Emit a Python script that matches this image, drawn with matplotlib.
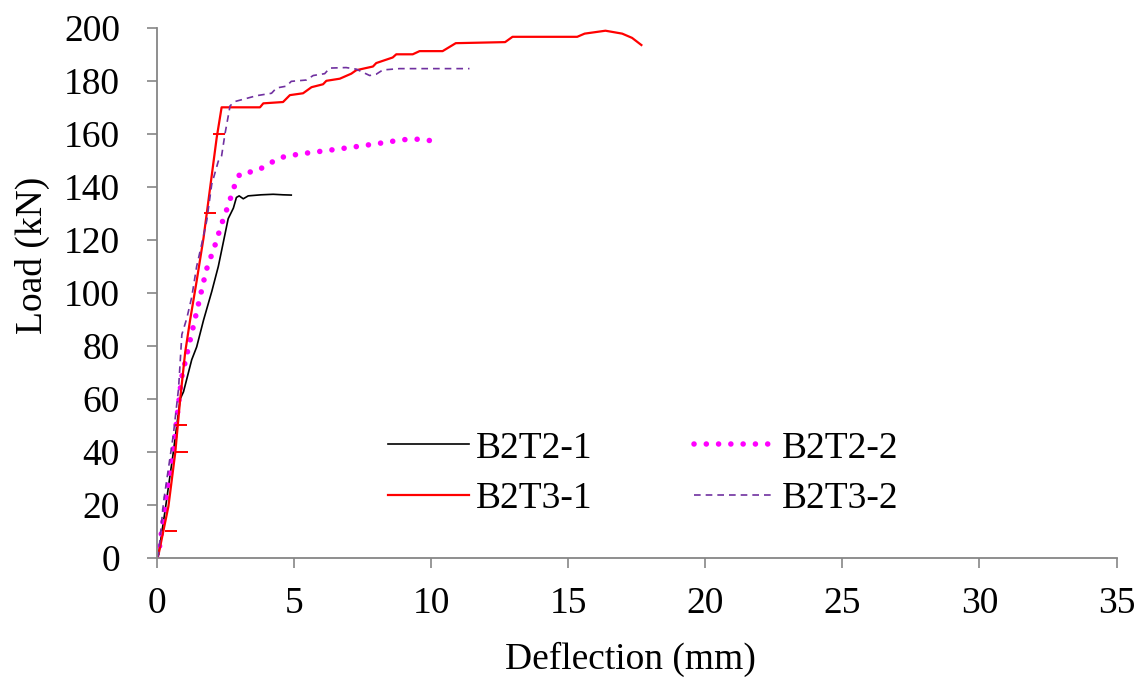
import matplotlib
matplotlib.use("Agg")
import matplotlib.pyplot as plt

# Load-deflection data
b2t2_1_x = [0.0, 0.06, 0.3, 0.6, 0.85, 0.97, 1.27, 1.45, 1.7, 2.0, 2.24, 2.42, 2.6, 2.79, 2.9, 3.0, 3.15, 3.33, 3.8, 4.24, 4.6, 4.9]
b2t2_1_y = [0.0, 1.3, 18, 40, 60, 62.7, 74.8, 79.6, 89.7, 100.5, 110, 119, 128, 132, 136, 136.6, 135.5, 136.6, 137.0, 137.2, 137.0, 136.9]

b2t2_2_x = [0.0, 0.06, 0.3, 0.6, 0.9, 1.2, 1.52, 1.8, 2.12, 2.36, 2.6, 2.85, 3.03, 3.64, 4.48, 5.2, 6.2, 7.15, 8.1, 8.97, 9.6, 10.0]
b2t2_2_y = [0.0, 1.5, 20, 41, 68, 81.6, 96, 108.6, 118, 126, 133, 141, 145, 146, 151, 152.4, 153.7, 155, 156.4, 157.8, 158, 157.4]

b2t3_1_x = [0.0, 0.06, 0.42, 0.67, 0.85, 1.03, 1.21, 1.45, 1.7, 1.94, 2.18, 2.36, 3.76, 3.88, 4.6, 4.85, 5.33, 5.64, 6.06, 6.18, 6.67, 7.09, 7.27, 7.88, 8.0, 8.6, 8.73, 9.33, 9.58, 10.42, 10.9, 12.7, 12.97, 15.33, 15.6, 16.36, 16.97, 17.33, 17.67]
b2t3_1_y = [0.0, 1.3, 19.5, 39.8, 60, 77.5, 89.7, 104.5, 120.7, 139.6, 158.5, 170, 170, 171.5, 172, 174.6, 175.3, 177.6, 178.7, 180, 180.8, 182.7, 184, 185.4, 186.7, 188.8, 190, 190, 191.2, 191.2, 194.2, 194.6, 196.6, 196.6, 197.8, 198.9, 197.8, 196.2, 193.5]

# small horizontal marks along the B2T3-1 curve
b2t3_1_mark_x = [0.5, 0.9, 0.88, 1.95, 2.25]
b2t3_1_mark_y = [10, 40, 50, 130, 160]

b2t3_2_x = [0.0, 0.06, 0.24, 0.6, 0.79, 0.91, 1.09, 1.27, 1.45, 1.64, 1.82, 2.0, 2.24, 2.36, 2.48, 2.67, 2.85, 3.64, 4.18, 4.36, 4.73, 4.9, 5.45, 5.7, 6.12, 6.3, 6.9, 7.27, 7.76, 8.0, 8.24, 8.85, 11.4]
b2t3_2_y = [0.0, 1.3, 21, 46.5, 64, 84.3, 90.4, 98.4, 110, 118.7, 127.4, 141, 149.7, 151.7, 159.8, 170.6, 172.2, 174.4, 175.3, 177.3, 178, 179.8, 180.3, 182, 182.7, 184.8, 185, 184.4, 182, 182.5, 184.1, 184.6, 184.6]

x_ticks = [0, 5, 10, 15, 20, 25, 30, 35]
y_ticks = [0, 20, 40, 60, 80, 100, 120, 140, 160, 180, 200]

plt.rcParams['font.family'] = ['Liberation Serif', 'DejaVu Serif']

fig = plt.figure(figsize=(11.37, 6.78), dpi=100)
ax = fig.add_axes([0.138, 0.177, 0.844, 0.782])

l1, = ax.plot(b2t2_1_x, b2t2_1_y, color='black', lw=1.2, label='B2T2-1')
l2, = ax.plot(b2t2_2_x, b2t2_2_y, color='#ff00ff', lw=4, linestyle=(0, (0.01, 2.2)),
              dash_capstyle='round', label='B2T2-2')
l3, = ax.plot(b2t3_1_x, b2t3_1_y, color='#ff0000', lw=1.6, label='B2T3-1')
ax.plot(b2t3_1_mark_x, b2t3_1_mark_y, linestyle='none', marker='_', ms=8,
        mew=1.4, color='#ff0000')
l4, = ax.plot(b2t3_2_x, b2t3_2_y, color='#7030a0', lw=1.2, linestyle=(0, (4, 3)), label='B2T3-2')

ax.set_xlim(0, 35)
ax.set_ylim(0, 200)
ax.set_xticks(x_ticks)
ax.set_yticks(y_ticks)
ax.tick_params(axis='both', labelsize=27, direction='out', length=7.5,
               color='#868686', width=1.2)
ax.tick_params(axis='x', pad=13)
ax.tick_params(axis='y', pad=19)
for side in ['top', 'right']:
    ax.spines[side].set_visible(False)
for side in ['left', 'bottom']:
    ax.spines[side].set_color('#868686')
    ax.spines[side].set_linewidth(1.3)

ax.set_xlabel('Deflection (mm)', fontsize=27)
ax.set_ylabel('Load (kN)', fontsize=27)
ax.xaxis.set_label_coords(0.493, -0.158)
ax.yaxis.set_label_coords(-0.111, 0.57)

# row-wise order: B2T2-1, B2T2-2 / B2T3-1, B2T3-2
ax.legend([l1, l3, l2, l4], ['B2T2-1', 'B2T3-1', 'B2T2-2', 'B2T3-2'],
          ncol=2, frameon=False, fontsize=27, loc='upper left',
          bbox_to_anchor=(388 / 1137, 1 - 431 / 678),
          bbox_transform=fig.transFigure, borderaxespad=0, borderpad=0,
          handlelength=2.15, handletextpad=0.2, columnspacing=2.7,
          labelspacing=0.42)

fig.savefig('out.png', dpi=100)
